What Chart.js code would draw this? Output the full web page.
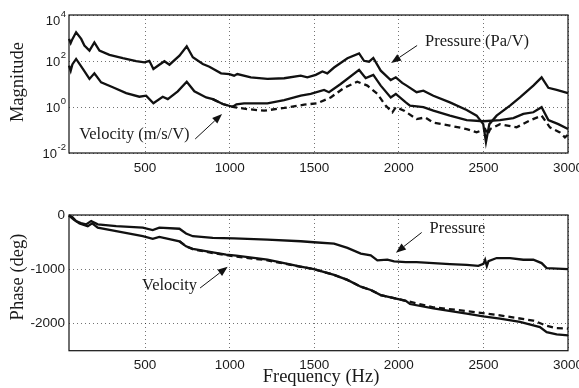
<!DOCTYPE html>
<html>
<head>
<meta charset="utf-8">
<script src="https://cdn.jsdelivr.net/npm/chart.js@4"></script>
<style>
  html, body { margin: 0; padding: 0; background: #fff; }
  #wrap { position: relative; width: 579px; height: 388px; overflow: hidden; }
  #c1 { position: absolute; left: 0; top: 0; }
  #c2 { position: absolute; left: 0; top: 195px; }
</style>
</head>
<body>
<div id="wrap">
  <canvas id="c1" width="579" height="195"></canvas>
  <canvas id="c2" width="579" height="193"></canvas>
</div>
<script>
// ---------- Data ----------
const xTicks = [500, 1000, 1500, 2000, 2500, 3000];
const magTickValues = [0.01, 1, 100, 10000];
const magTickExponents = ['-2', '0', '2', '4'];
const phaseTicks = [-2000, -1000, 0];

// Magnitude, pressure (Pa/V)
const pressMagFreq = [50, 60, 70, 92, 122, 141, 171, 200, 230, 289, 368, 447, 496, 525, 549, 584, 614, 644, 703, 746, 782, 841, 880, 949, 998, 1026, 1045, 1125, 1223, 1322, 1420, 1459, 1509, 1548, 1577, 1617, 1696, 1765, 1794, 1824, 1849, 1893, 1952, 1982, 2020, 2046, 2105, 2145, 2204, 2302, 2401, 2460, 2499, 2515, 2535, 2578, 2657, 2716, 2795, 2844, 2884, 2933, 3000];
const pressMag = [912, 603, 891, 1778, 912, 468, 282, 646, 282, 186, 132, 98, 87, 102, 45, 69, 98, 69, 170, 437, 145, 74, 56, 29, 27, 23, 27, 19.5, 16.6, 17.8, 23, 19.5, 25, 35, 29, 52, 132, 214, 102, 93, 135, 38, 14.8, 19.5, 11.2, 8.5, 4.4, 5.1, 3.1, 1.58, 0.74, 0.42, 0.18, 0.03, 0.18, 0.42, 1.15, 2.6, 8.5, 19.5, 6.8, 5.5, 4.0];

// Magnitude, velocity (m/s/V), solid
const velMagFreq = [50, 60, 70, 92, 132, 171, 200, 240, 309, 388, 466, 506, 549, 604, 634, 693, 746, 791, 861, 900, 959, 1018, 1040, 1085, 1223, 1322, 1420, 1479, 1558, 1587, 1656, 1765, 1804, 1849, 1893, 1952, 1982, 2041, 2066, 2145, 2204, 2302, 2401, 2499, 2598, 2677, 2736, 2795, 2844, 2884, 2943, 3000];
const velMag = [63, 38, 71, 123, 45, 16.6, 29, 11.7, 7.2, 4.0, 2.8, 3.1, 1.45, 2.8, 2.2, 4.8, 12.6, 4.8, 2.6, 2.2, 1.35, 1.02, 1.3, 1.45, 1.45, 2.0, 3.1, 3.7, 5.5, 4.4, 10, 41, 18, 25, 8.5, 2.6, 3.7, 1.58, 1.15, 0.98, 0.69, 0.42, 0.27, 0.24, 0.27, 0.33, 0.50, 0.59, 0.98, 0.27, 0.18, 0.11];

// Magnitude, velocity, dashed
const velMagDashFreq = [900, 959, 1026, 1105, 1203, 1322, 1440, 1518, 1597, 1676, 1754, 1814, 1873, 1922, 1962, 1982, 2031, 2105, 2155, 2204, 2302, 2401, 2460, 2510, 2525, 2540, 2598, 2696, 2775, 2844, 2893, 2952, 2982, 3000];
const velMagDash = [2.2, 1.35, 0.98, 0.81, 0.69, 0.91, 1.26, 1.45, 2.6, 6.8, 12.6, 8.5, 3.7, 1.15, 0.59, 0.98, 0.69, 0.30, 0.35, 0.21, 0.155, 0.11, 0.079, 0.11, 0.063, 0.11, 0.18, 0.13, 0.26, 0.42, 0.13, 0.079, 0.048, 0.063];

// Phase, pressure
const pressPhaseFreq = [50, 70, 92, 120, 151, 181, 220, 329, 486, 545, 584, 703, 742, 782, 900, 1026, 1223, 1420, 1498, 1617, 1696, 1775, 1834, 1873, 1932, 1972, 2041, 2105, 2204, 2302, 2401, 2470, 2500, 2510, 2520, 2530, 2578, 2657, 2736, 2795, 2844, 2874, 3000];
const pressPhase = [-5, -40, -112, -150, -173, -112, -173, -205, -234, -279, -234, -253, -340, -391, -420, -430, -452, -484, -502, -526, -607, -712, -744, -837, -824, -856, -870, -867, -886, -904, -917, -936, -900, -824, -940, -850, -793, -793, -824, -824, -886, -979, -997];

// Phase, velocity, solid
const velPhaseFreq = [50, 80, 112, 161, 187, 220, 329, 486, 545, 584, 703, 742, 782, 900, 979, 1038, 1223, 1420, 1498, 1617, 1696, 1775, 1834, 1893, 1952, 2041, 2066, 2204, 2401, 2499, 2598, 2716, 2795, 2834, 2874, 2933, 3000];
const velPhase = [-10, -90, -154, -205, -154, -234, -298, -391, -439, -402, -484, -577, -625, -688, -731, -750, -824, -949, -997, -1103, -1196, -1321, -1382, -1475, -1518, -1581, -1640, -1722, -1815, -1866, -1908, -1971, -2033, -2065, -2158, -2200, -2219];

// Phase, velocity, dashed
const velPhaseDashFreq = [703, 742, 782, 900, 1038, 1223, 1420, 1498, 1617, 1696, 1775, 1834, 1893, 1952, 2041, 2204, 2401, 2598, 2795, 2874, 2933, 3000];
const velPhaseDash = [-484, -577, -630, -700, -765, -835, -955, -997, -1103, -1196, -1321, -1382, -1475, -1518, -1581, -1700, -1770, -1850, -1945, -2040, -2085, -2095];

// Annotation anchors in data coordinates
const magNotes = [
  { text: 'Pressure (Pa/V)', x: 2155, y: 676, from: [2108, 472], to: [1954, 82] },
  { text: 'Velocity (m/s/V)', x: 110, y: 0.0607, from: [796, 0.0407], to: [955, 0.497] }
];
const phaseNotes = [
  { text: 'Pressure', x: 2181, y: -247, from: [2135, -322], to: [1983, -694] },
  { text: 'Velocity', x: 482, y: -1308, from: [825, -1345], to: [988, -954] }
];

// ---------- Helpers ----------
const pts = (xs, ys) => xs.map((x, i) => ({ x, y: ys[i] }));
const SERIF = '"Liberation Serif", "Times New Roman", serif';
const SANS = '"Liberation Sans", Arial, sans-serif';
const TXT = '#1a1a1a';

function lineDs(data, dashed) {
  return {
    data, borderColor: '#111', borderWidth: 2.3, pointRadius: 0,
    tension: 0, fill: false, borderDash: dashed ? [6, 4] : [], clip: false
  };
}

function drawArrow(ctx, x1, y1, x2, y2) {
  const ang = Math.atan2(y2 - y1, x2 - x1);
  const L = 10, W = 3.8;
  const bx = x2 - L * Math.cos(ang), by = y2 - L * Math.sin(ang);
  ctx.save();
  ctx.strokeStyle = '#111'; ctx.fillStyle = '#111'; ctx.lineWidth = 1;
  ctx.beginPath(); ctx.moveTo(x1, y1); ctx.lineTo(bx, by); ctx.stroke();
  ctx.beginPath();
  ctx.moveTo(x2, y2);
  ctx.lineTo(bx - W * Math.sin(ang), by + W * Math.cos(ang));
  ctx.lineTo(bx + W * Math.sin(ang), by - W * Math.cos(ang));
  ctx.closePath(); ctx.fill();
  ctx.restore();
}

function framePlugin(notes, extra) {
  return {
    id: 'frame',
    afterDraw(chart) {
      const { ctx, chartArea: a, scales } = chart;
      ctx.save();
      ctx.strokeStyle = '#111'; ctx.lineWidth = 1.2;
      ctx.strokeRect(a.left, a.top, a.right - a.left, a.bottom - a.top);
      ctx.restore();
      const sx = scales.x, sy = scales.y;
      notes.forEach(n => {
        ctx.save();
        ctx.font = '16.5px ' + SERIF;
        ctx.fillStyle = TXT; ctx.textAlign = 'left'; ctx.textBaseline = 'middle';
        ctx.fillText(n.text, sx.getPixelForValue(n.x), sy.getPixelForValue(n.y));
        ctx.restore();
        drawArrow(ctx, sx.getPixelForValue(n.from[0]), sy.getPixelForValue(n.from[1]),
                       sx.getPixelForValue(n.to[0]), sy.getPixelForValue(n.to[1]));
      });
      if (extra) extra(chart);
    }
  };
}

const gridOpts = { color: 'rgba(0,0,0,0.55)', lineWidth: 1, drawTicks: false };

function xScale(pad) {
  return {
    type: 'linear', min: 50, max: 3000,
    grid: gridOpts,
    border: { display: false, dash: [1, 3] },
    afterBuildTicks: s => { s.ticks = xTicks.map(v => ({ value: v })); },
    afterFit: s => { s.paddingLeft = 0; s.paddingRight = 0; s.height = pad.h; },
    ticks: { color: TXT, font: { family: SANS, size: 13.5 }, padding: pad.p, maxRotation: 0, autoSkip: false,
             callback: v => String(v) }
  };
}

// ---------- Top chart: magnitude ----------
new Chart(document.getElementById('c1'), {
  type: 'line',
  data: {
    datasets: [
      lineDs(pts(pressMagFreq, pressMag), false),
      lineDs(pts(velMagFreq, velMag), false),
      lineDs(pts(velMagDashFreq, velMagDash), true)
    ]
  },
  options: {
    responsive: false, animation: false, events: [],
    layout: { padding: { left: 0, right: 11, top: 15, bottom: 0 } },
    plugins: { legend: { display: false }, tooltip: { enabled: false } },
    scales: {
      x: xScale({ h: 42, p: 7 }),
      y: {
        type: 'logarithmic', min: 0.01, max: 10000,
        grid: gridOpts,
        border: { display: false, dash: [1, 3] },
        afterBuildTicks: s => { s.ticks = magTickValues.map(v => ({ value: v })); },
        afterFit: s => { s.width = 69; s.paddingTop = 0; s.paddingBottom = 0; },
        ticks: { display: false }
      }
    }
  },
  plugins: [framePlugin(magNotes, chart => {
    const { ctx, scales, chartArea: a } = chart;
    const sy = scales.y;
    ctx.save();
    ctx.fillStyle = TXT;
    magTickValues.forEach((v, i) => {
      const y = Math.max(sy.getPixelForValue(v), a.top + 5);
      const exp = magTickExponents[i];
      ctx.font = '9.5px ' + SANS;
      const ew = ctx.measureText(exp).width;
      const right = a.left - 3;
      ctx.textAlign = 'left'; ctx.textBaseline = 'alphabetic';
      ctx.fillText(exp, right - ew, y - 3);
      ctx.font = '13px ' + SANS;
      ctx.textAlign = 'right'; ctx.textBaseline = 'middle';
      ctx.fillText('10', right - ew - 0.5, y + 1.5);
    });
    // axis title
    ctx.font = '18.5px ' + SERIF;
    ctx.textAlign = 'center'; ctx.textBaseline = 'middle';
    ctx.translate(18, 82); ctx.rotate(-Math.PI / 2);
    ctx.fillText('Magnitude', 0, 0);
    ctx.restore();
  })]
});

// ---------- Bottom chart: phase ----------
new Chart(document.getElementById('c2'), {
  type: 'line',
  data: {
    datasets: [
      lineDs(pts(pressPhaseFreq, pressPhase), false),
      lineDs(pts(velPhaseFreq, velPhase), false),
      lineDs(pts(velPhaseDashFreq, velPhaseDash), true)
    ]
  },
  options: {
    responsive: false, animation: false, events: [],
    layout: { padding: { left: 0, right: 11, top: 20, bottom: 0 } },
    plugins: { legend: { display: false }, tooltip: { enabled: false } },
    scales: {
      x: xScale({ h: 37.3, p: 6 }),
      y: {
        type: 'linear', min: -2500, max: 0,
        grid: gridOpts,
        border: { display: false, dash: [1, 3] },
        afterBuildTicks: s => { s.ticks = phaseTicks.map(v => ({ value: v })); },
        afterFit: s => { s.width = 69; s.paddingTop = 0; s.paddingBottom = 0; },
        ticks: { color: TXT, font: { family: SANS, size: 13.5 }, padding: 4, callback: v => String(v) }
      }
    }
  },
  plugins: [framePlugin(phaseNotes, chart => {
    const { ctx } = chart;
    ctx.save();
    ctx.fillStyle = TXT;
    ctx.font = '18.5px ' + SERIF;
    ctx.textAlign = 'center'; ctx.textBaseline = 'middle';
    ctx.fillText('Frequency (Hz)', 321, 182);
    ctx.translate(18, 82); ctx.rotate(-Math.PI / 2);
    ctx.fillText('Phase (deg)', 0, 0);
    ctx.restore();
  })]
});
</script>
</body>
</html>
